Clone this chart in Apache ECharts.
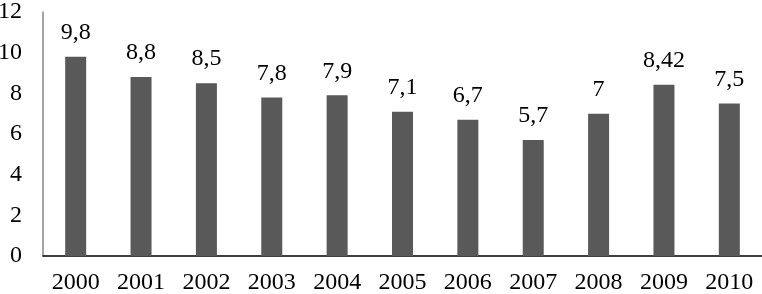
<!DOCTYPE html>
<html>
<head>
<meta charset="utf-8">
<script src="https://cdn.jsdelivr.net/npm/echarts@6/dist/echarts.min.js"></script>
<style>
  html, body { margin: 0; padding: 0; background: #fff; }
  #chart { width: 762px; height: 294px; }
</style>
</head>
<body>
<div id="chart"></div>
<script>
const years = ['2000', '2001', '2002', '2003', '2004', '2005', '2006', '2007', '2008', '2009', '2010'];
const values = [9.8, 8.8, 8.5, 7.8, 7.9, 7.1, 6.7, 5.7, 7, 8.42, 7.5];
const yTicks = [0, 2, 4, 6, 8, 10, 12];

const chart = echarts.init(document.getElementById('chart'));
const font = '"Liberation Serif", "Times New Roman", serif';

chart.setOption({
  animation: false,
  grid: { left: 43, right: 0, top: 12, bottom: 38, outerBoundsMode: 'none', containLabel: false },
  xAxis: {
    type: 'category',
    data: years,
    axisLine: { lineStyle: { color: '#000', width: 1.5 } },
    axisTick: { show: false },
    axisLabel: { color: '#000', fontFamily: font, fontSize: 24, margin: 15 }
  },
  yAxis: {
    type: 'value',
    min: yTicks[0],
    max: yTicks[yTicks.length - 1],
    interval: 2,
    axisLine: { show: true, lineStyle: { color: '#868686', width: 1.5 } },
    axisTick: { show: false },
    splitLine: { show: false },
    axisLabel: { color: '#000', fontFamily: font, fontSize: 24, margin: 21, padding: [0, 0, 5, 0] }
  },
  series: [{
    type: 'bar',
    data: values,
    barWidth: 21,
    itemStyle: { color: '#595959' },
    label: {
      show: true,
      position: 'top',
      distance: 12,
      color: '#000',
      fontFamily: font,
      fontSize: 24,
      formatter: p => String(p.value).replace('.', ',')
    }
  }]
});
</script>
</body>
</html>
